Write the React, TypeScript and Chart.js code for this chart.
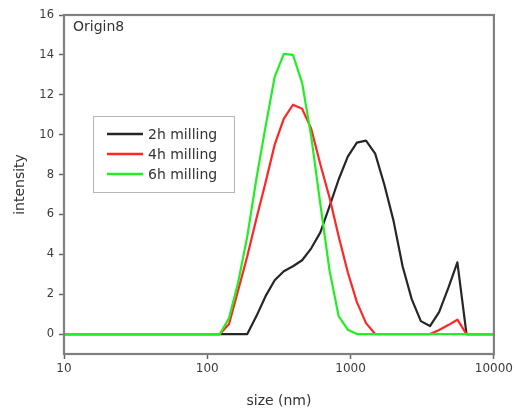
import React, { useEffect, useRef } from "react";
import { Chart, registerables } from "chart.js";

Chart.register(...registerables);

// Particle size bins (nm)
const sizes = [
  10.1, 11.7, 13.54, 15.69, 18.17, 21.04, 24.36, 28.21, 32.67, 37.84, 43.82, 50.75,
  58.77, 68.06, 78.82, 91.28, 105.7, 122.4, 141.8, 164.2, 190.1, 220.2, 255.0, 295.3,
  342.0, 396.1, 458.7, 531.2, 615.1, 712.4, 825.0, 955.4, 1106, 1281, 1484, 1718,
  1990, 2305, 2669, 3091, 3580, 4145, 4801, 5560, 6439, 7456, 8635, 10000,
];

const milling2h = [
  0, 0, 0, 0, 0, 0, 0, 0, 0, 0, 0, 0,
  0, 0, 0, 0, 0, 0, 0, 0, 0, 0.9, 1.9, 2.7,
  3.15, 3.4, 3.7, 4.3, 5.1, 6.4, 7.75, 8.9, 9.6, 9.7, 9.05, 7.5,
  5.7, 3.4, 1.75, 0.65, 0.4, 1.1, 2.3, 3.6, 0, 0, 0, 0,
];

const milling4h = [
  0, 0, 0, 0, 0, 0, 0, 0, 0, 0, 0, 0,
  0, 0, 0, 0, 0, 0, 0.5, 2.2, 3.9, 5.8, 7.6, 9.5,
  10.8, 11.5, 11.3, 10.3, 8.5, 6.85, 4.9, 3.1, 1.6, 0.55, 0, 0,
  0, 0, 0, 0, 0, 0.2, 0.45, 0.72, 0, 0, 0, 0,
];

const milling6h = [
  0, 0, 0, 0, 0, 0, 0, 0, 0, 0, 0, 0,
  0, 0, 0, 0, 0, 0, 0.8, 2.6, 4.9, 7.8, 10.4, 12.9,
  14.05, 14.0, 12.6, 9.9, 6.5, 3.2, 0.9, 0.22, 0, 0, 0, 0,
  0, 0, 0, 0, 0, 0, 0, 0, 0, 0, 0, 0,
];

const seriesLabels = ["2h milling", "4h milling", "6h milling"];
const seriesColors = ["#262626", "#ff2626", "#22ee22"];
const xTicks = [10, 100, 1000, 10000];
const yTicks = [0, 2, 4, 6, 8, 10, 12, 14, 16];
const xTitle = "size (nm)";
const yTitle = "intensity";
const cornerNote = "Origin8";

const FONT = "DejaVu Sans";

const decorPlugin = {
  id: "decor",
  afterDraw(chart: any) {
    const { ctx, chartArea } = chart;
    const { left, top, right, bottom } = chartArea;
    ctx.save();
    // frame
    ctx.strokeStyle = "#808080";
    ctx.lineWidth = 2.2;
    ctx.strokeRect(left, top, right - left, bottom - top);

    // corner note
    ctx.fillStyle = "#333";
    ctx.font = `14px "${FONT}"`;
    ctx.textBaseline = "alphabetic";
    ctx.textAlign = "left";
    ctx.fillText(cornerNote, left + 9, top + 16);

    // legend box
    const bx = 93, by = 116, bw = 141, bh = 76;
    ctx.fillStyle = "#ffffff";
    ctx.fillRect(bx, by, bw, bh);
    ctx.strokeStyle = "#b5b5b5";
    ctx.lineWidth = 1;
    ctx.strokeRect(bx + 0.5, by + 0.5, bw, bh);
    const ds = chart.data.datasets;
    ds.forEach((d: any, i: number) => {
      const y = by + 18 + i * 20;
      ctx.strokeStyle = d.borderColor;
      ctx.lineWidth = 2.5;
      ctx.beginPath();
      ctx.moveTo(bx + 14, y);
      ctx.lineTo(bx + 50, y);
      ctx.stroke();
      ctx.fillStyle = "#333";
      ctx.font = `14px "${FONT}"`;
      ctx.textBaseline = "middle";
      ctx.fillText(d.label, bx + 55, y + 1);
    });
    ctx.restore();
  },
};

export default function App() {
  const ref = useRef<HTMLCanvasElement | null>(null);

  useEffect(() => {
    document.body.style.margin = "0";
    const canvas = ref.current;
    if (!canvas) return;
    const series = [milling2h, milling4h, milling6h];
    const chart = new Chart(canvas, {
      type: "line",
      data: {
        labels: sizes,
        datasets: series.map((vals, i) => ({
          label: seriesLabels[i],
          data: vals.map((v, j) => ({ x: sizes[j], y: v })),
          borderColor: seriesColors[i],
          backgroundColor: seriesColors[i],
          borderWidth: 2.2,
          pointRadius: 0,
          tension: 0,
          borderJoinStyle: "round",
          fill: false,
          order: 3 - i,
        })),
      },
      options: {
        responsive: false,
        animation: false,
        devicePixelRatio: 1,
        layout: { padding: { left: 0, top: 15, right: 21, bottom: 0 } },
        plugins: {
          legend: { display: false },
          tooltip: { enabled: false },
        },
        scales: {
          x: {
            type: "logarithmic",
            min: 10,
            max: 10000,
            afterBuildTicks: (scale: any) => {
              scale.ticks = xTicks.map((v) => ({ value: v }));
            },
            afterFit: (scale: any) => {
              scale.height = 56;
            },
            border: { display: false },
            grid: {
              display: true,
              drawOnChartArea: false,
              drawTicks: true,
              tickLength: 5,
              tickColor: "#666",
              tickWidth: 1.5,
            },
            ticks: {
              callback: (v: any) => String(v),
              font: { family: FONT, size: 12 },
              color: "#3a3a3a",
              padding: 3,
              maxRotation: 0,
              autoSkip: false,
            },
            title: {
              display: true,
              text: xTitle,
              font: { family: FONT, size: 14 },
              color: "#333",
              padding: { top: 0, bottom: 0 },
            },
          },
          y: {
            type: "linear",
            min: -1,
            max: 16,
            afterBuildTicks: (scale: any) => {
              scale.ticks = yTicks.map((v) => ({ value: v }));
            },
            afterFit: (scale: any) => {
              scale.width = 64;
            },
            border: { display: false },
            grid: {
              display: true,
              drawOnChartArea: false,
              drawTicks: true,
              tickLength: 5,
              tickColor: "#666",
              tickWidth: 1.5,
            },
            ticks: {
              font: { family: FONT, size: 11.5 },
              color: "#3a3a3a",
              padding: 5,
            },
            title: {
              display: true,
              text: yTitle,
              font: { family: FONT, size: 14 },
              color: "#333",
              padding: { top: 12, bottom: 0 },
            },
          },
        },
      },
      plugins: [decorPlugin],
    } as any);
    return () => chart.destroy();
  }, []);

  return (
    <div style={{ width: 516, height: 410, background: "#fff" }}>
      <canvas ref={ref} width={516} height={410} style={{ display: "block" }} />
    </div>
  );
}
